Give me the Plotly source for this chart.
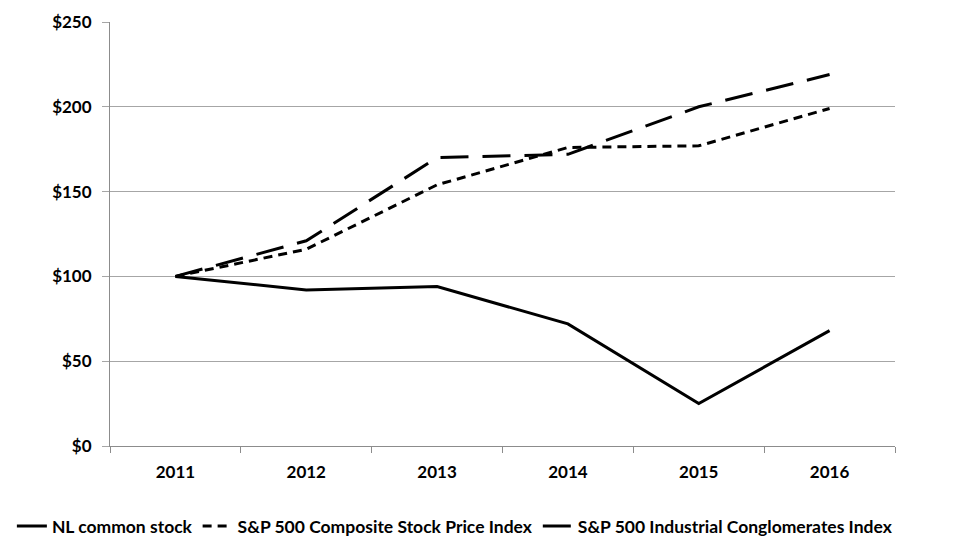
import plotly.graph_objects as go

years = ["2011", "2012", "2013", "2014", "2015", "2016"]
nl_common = [100, 92, 94, 72, 25, 68]
sp500_composite = [100, 116, 154, 176, 177, 199]
sp500_industrial = [100, 121, 170, 172, 200, 219]
series_names = ["NL common stock", "S&P 500 Composite Stock Price Index", "S&P 500 Industrial Conglomerates Index"]

FONT = "Lato, Noto Sans, sans-serif"
AXIS_GRAY = "#8c8c8c"

fig = go.Figure()
fig.add_trace(go.Scatter(x=years, y=nl_common, name=series_names[0], mode="lines",
                         line=dict(color="black", width=3, dash="solid")))
fig.add_trace(go.Scatter(x=years, y=sp500_composite, name=series_names[1], mode="lines",
                         line=dict(color="black", width=3, dash="9px,6px")))
fig.add_trace(go.Scatter(x=years, y=sp500_industrial, name=series_names[2], mode="lines",
                         line=dict(color="black", width=3, dash="28px,14px")))

fig.update_layout(
    width=958, height=536,
    margin=dict(l=110, r=63, t=22, b=90, autoexpand=False),
    plot_bgcolor="white", paper_bgcolor="white",
    font=dict(family=FONT, size=17, color="black"),
    showlegend=True,
    legend=dict(orientation="h", x=-0.125, xanchor="left",
                y=-0.189, yanchor="middle",
                font=dict(family=FONT, size=17.5, color="black", weight="bold"),
                itemwidth=30, tracegroupgap=0),
)
fig.update_xaxes(
    type="category", range=[-0.5, 5.5], showline=True, linecolor=AXIS_GRAY, linewidth=1,
    ticks="outside", tickson="boundaries", ticklen=6, tickcolor=AXIS_GRAY,
    showgrid=False, tickfont=dict(family=FONT, size=17, color="black", weight="bold"),
    ticklabelstandoff=11, automargin=False,
)
fig.update_yaxes(
    range=[0, 250], dtick=50, tickprefix="$", showline=True, linecolor=AXIS_GRAY, linewidth=1,
    showgrid=True, gridcolor="#a6a6a6", gridwidth=1, zeroline=False,
    ticks="outside", ticklen=7, tickcolor="#a6a6a6",
    tickfont=dict(family=FONT, size=17, color="black", weight="bold"),
    ticklabelstandoff=7, automargin=False,
)
fig.write_html("out.html", config={"displayModeBar": False},
               post_script="document.body.style.margin='0';")
